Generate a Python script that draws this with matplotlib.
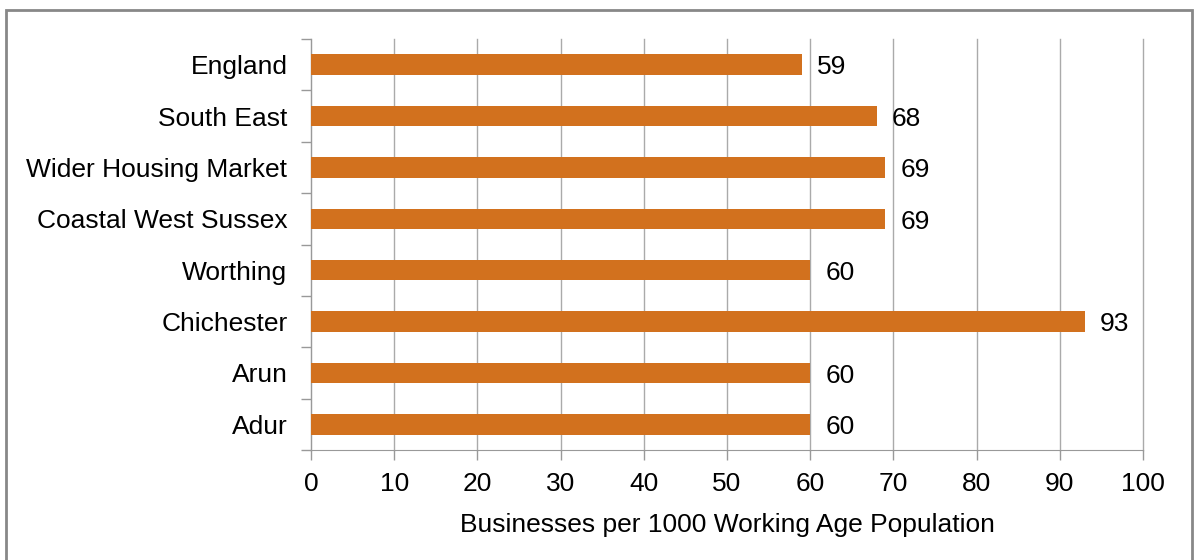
import matplotlib
matplotlib.use("Agg")
from matplotlib import pyplot as plt
from matplotlib.patches import Rectangle

plt.rcParams['font.family'] = ['Liberation Sans', 'DejaVu Sans']

areas = ['England', 'South East', 'Wider Housing Market', 'Coastal West Sussex',
         'Worthing', 'Chichester', 'Arun', 'Adur']
values = [59, 68, 69, 69, 60, 93, 60, 60]
x_ticks = [0, 10, 20, 30, 40, 50, 60, 70, 80, 90, 100]

fig = plt.figure(figsize=(11.99, 5.6), dpi=100)
ax = fig.add_axes([311/1199, 1-450/560, (1143-311)/1199, (450-39)/560])

pos = list(range(len(areas)))[::-1]
ax.barh(pos, values, height=0.4, color='#D2711E', zorder=3)
for p, v in zip(pos, values):
    ax.annotate(str(v), (v, p), xytext=(11, -2), textcoords='offset points',
                va='center', ha='left', fontsize=19)

ax.set_xlim(0, 100)
ax.set_ylim(-0.5, len(areas) - 0.5)
ax.set_xticks(x_ticks)
ax.set_yticks(pos)
ax.set_yticklabels(areas)
ax.set_yticks([i - 0.5 for i in range(len(areas) + 1)], minor=True)
ax.tick_params(axis='y', which='major', length=0, pad=17, labelsize=19)
ax.tick_params(axis='y', which='minor', length=7, color='#999999', width=1)
ax.tick_params(axis='x', length=7, color='#999999', width=1, pad=9, labelsize=19)
ax.grid(axis='x', color='#aaaaaa', linewidth=1, zorder=0)
for gl in ax.get_xgridlines():
    gl.set_clip_on(False)
for s in ['top', 'right']:
    ax.spines[s].set_visible(False)
for s in ['left', 'bottom']:
    ax.spines[s].set_color('#999999')
ax.set_xlabel('Businesses per 1000 Working Age Population', fontsize=19, labelpad=12)

fig.patches.append(Rectangle((6/1199, -0.05), (1192-6)/1199, 1.05 - 10/560,
                             transform=fig.transFigure, fill=False,
                             edgecolor='#888888', linewidth=2))

fig.savefig('out.png', dpi=100)
